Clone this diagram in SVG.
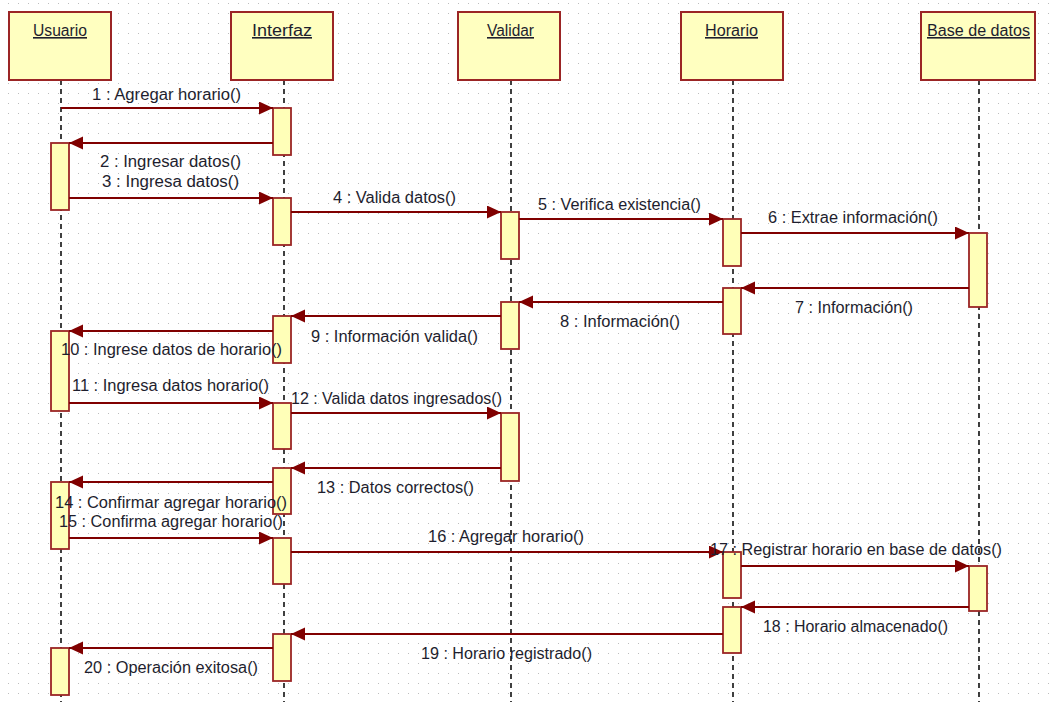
<svg xmlns="http://www.w3.org/2000/svg" width="1049" height="702" viewBox="0 0 1049 702">
<style>
.hd{fill:#ffffc0;stroke:#9b2525;stroke-width:2}
.act{fill:#ffffb8;stroke:#9b2525;stroke-width:1.8}
.life{stroke:#111;stroke-width:1.6;stroke-dasharray:5 4;fill:none}
.msg{stroke:#800000;stroke-width:1.8;fill:none;marker-end:url(#ah)}
text{font-family:"Liberation Sans",Arial,sans-serif;font-size:16px;fill:#1e1e2e}
.hl{text-decoration:underline}
</style>
<defs>
<pattern id="grid" width="10" height="10" patternUnits="userSpaceOnUse">
<rect x="8" y="3" width="1" height="1" fill="#bdbdbd"/>
</pattern>
<marker id="ah" markerUnits="userSpaceOnUse" markerWidth="16" markerHeight="14" refX="14" refY="6.5" orient="auto">
<path d="M0,0 L14,6.5 L0,13 z" fill="#800000"/>
</marker>
</defs>
<rect width="1049" height="702" fill="#ffffff"/>
<rect width="1049" height="702" fill="url(#grid)"/>

<g id="usuario">
<line class="life" x1="61" y1="80" x2="61" y2="702"/>
<rect class="hd" x="9" y="12" width="102" height="68"/>
<text class="hl" x="33" y="36" textLength="54" lengthAdjust="spacingAndGlyphs">Usuario</text>
<rect class="act" x="51" y="143" width="18" height="67"/>
<rect class="act" x="51" y="331" width="18" height="80"/>
<rect class="act" x="51" y="482" width="18" height="67"/>
<rect class="act" x="51" y="648" width="18" height="47"/>
</g>

<g id="interfaz">
<line class="life" x1="284" y1="80" x2="284" y2="702"/>
<rect class="hd" x="231" y="12" width="102" height="68"/>
<text class="hl" x="252" y="36" textLength="60" lengthAdjust="spacingAndGlyphs">Interfaz</text>
<rect class="act" x="273" y="108" width="18" height="47"/>
<rect class="act" x="273" y="198" width="18" height="47"/>
<rect class="act" x="273" y="316" width="18" height="47"/>
<rect class="act" x="273" y="403" width="18" height="46"/>
<rect class="act" x="273" y="468" width="18" height="46"/>
<rect class="act" x="273" y="538" width="18" height="46"/>
<rect class="act" x="273" y="634" width="18" height="47"/>
</g>

<g id="validar">
<line class="life" x1="511" y1="80" x2="511" y2="702"/>
<rect class="hd" x="458" y="12" width="102" height="68"/>
<text class="hl" x="487" y="36" textLength="47" lengthAdjust="spacingAndGlyphs">Validar</text>
<rect class="act" x="501" y="212" width="18" height="47"/>
<rect class="act" x="501" y="302" width="18" height="47"/>
<rect class="act" x="501" y="413" width="18" height="68"/>
</g>

<g id="horario">
<line class="life" x1="733" y1="80" x2="733" y2="702"/>
<rect class="hd" x="681" y="12" width="102" height="68"/>
<text class="hl" x="705" y="36" textLength="53" lengthAdjust="spacingAndGlyphs">Horario</text>
<rect class="act" x="723" y="219" width="18" height="47"/>
<rect class="act" x="723" y="288" width="18" height="46"/>
<rect class="act" x="723" y="552" width="18" height="46"/>
<rect class="act" x="723" y="607" width="18" height="46"/>
</g>

<g id="base_de_datos">
<line class="life" x1="979" y1="80" x2="979" y2="702"/>
<rect class="hd" x="921" y="12" width="114" height="68"/>
<text class="hl" x="927" y="36" textLength="103" lengthAdjust="spacingAndGlyphs">Base de datos</text>
<rect class="act" x="969" y="233" width="18" height="74"/>
<rect class="act" x="969" y="566" width="18" height="45"/>
</g>

<g id="connectors">
<line class="msg" x1="61" y1="108" x2="273" y2="108"/>
<line class="msg" x1="273" y1="143" x2="69" y2="143"/>
<line class="msg" x1="69" y1="198" x2="273" y2="198"/>
<line class="msg" x1="291" y1="212" x2="501" y2="212"/>
<line class="msg" x1="519" y1="219" x2="723" y2="219"/>
<line class="msg" x1="741" y1="233" x2="969" y2="233"/>
<line class="msg" x1="969" y1="288" x2="741" y2="288"/>
<line class="msg" x1="723" y1="302" x2="519" y2="302"/>
<line class="msg" x1="501" y1="316" x2="291" y2="316"/>
<line class="msg" x1="273" y1="331" x2="69" y2="331"/>
<line class="msg" x1="69" y1="403" x2="273" y2="403"/>
<line class="msg" x1="291" y1="413" x2="501" y2="413"/>
<line class="msg" x1="501" y1="468" x2="291" y2="468"/>
<line class="msg" x1="273" y1="482" x2="69" y2="482"/>
<line class="msg" x1="69" y1="538" x2="273" y2="538"/>
<line class="msg" x1="291" y1="552" x2="723" y2="552"/>
<line class="msg" x1="741" y1="566" x2="969" y2="566"/>
<line class="msg" x1="969" y1="607" x2="741" y2="607"/>
<line class="msg" x1="723" y1="634" x2="291" y2="634"/>
<line class="msg" x1="273" y1="648" x2="69" y2="648"/>

<text x="92" y="100" textLength="149" lengthAdjust="spacingAndGlyphs">1 : Agregar horario()</text>
<text x="100" y="167" textLength="141" lengthAdjust="spacingAndGlyphs">2 : Ingresar datos()</text>
<text x="102" y="187" textLength="137" lengthAdjust="spacingAndGlyphs">3 : Ingresa datos()</text>
<text x="333" y="203" textLength="123" lengthAdjust="spacingAndGlyphs">4 : Valida datos()</text>
<text x="538" y="210" textLength="163" lengthAdjust="spacingAndGlyphs">5 : Verifica existencia()</text>
<text x="768" y="223" textLength="170" lengthAdjust="spacingAndGlyphs">6 : Extrae información()</text>
<text x="795" y="313" textLength="118" lengthAdjust="spacingAndGlyphs">7 : Información()</text>
<text x="560" y="327" textLength="120" lengthAdjust="spacingAndGlyphs">8 : Información()</text>
<text x="311" y="342" textLength="167" lengthAdjust="spacingAndGlyphs">9 : Información valida()</text>
<text x="61" y="355" textLength="221" lengthAdjust="spacingAndGlyphs">10 : Ingrese datos de horario()</text>
<text x="72" y="391" textLength="197" lengthAdjust="spacingAndGlyphs">11 : Ingresa datos horario()</text>
<text x="291" y="404" textLength="211" lengthAdjust="spacingAndGlyphs">12 : Valida datos ingresados()</text>
<text x="317" y="493" textLength="157" lengthAdjust="spacingAndGlyphs">13 : Datos correctos()</text>
<text x="55" y="508" textLength="232" lengthAdjust="spacingAndGlyphs">14 : Confirmar agregar horario()</text>
<text x="59" y="527" textLength="224" lengthAdjust="spacingAndGlyphs">15 : Confirma agregar horario()</text>
<text x="428" y="542" textLength="156" lengthAdjust="spacingAndGlyphs">16 : Agregar horario()</text>
<text x="710" y="555" textLength="292" lengthAdjust="spacingAndGlyphs">17 : Registrar horario en base de datos()</text>
<text x="763" y="632" textLength="185" lengthAdjust="spacingAndGlyphs">18 : Horario almacenado()</text>
<text x="421" y="659" textLength="171" lengthAdjust="spacingAndGlyphs">19 : Horario registrado()</text>
<text x="84" y="673" textLength="174" lengthAdjust="spacingAndGlyphs">20 : Operación exitosa()</text>
</g>
</svg>
